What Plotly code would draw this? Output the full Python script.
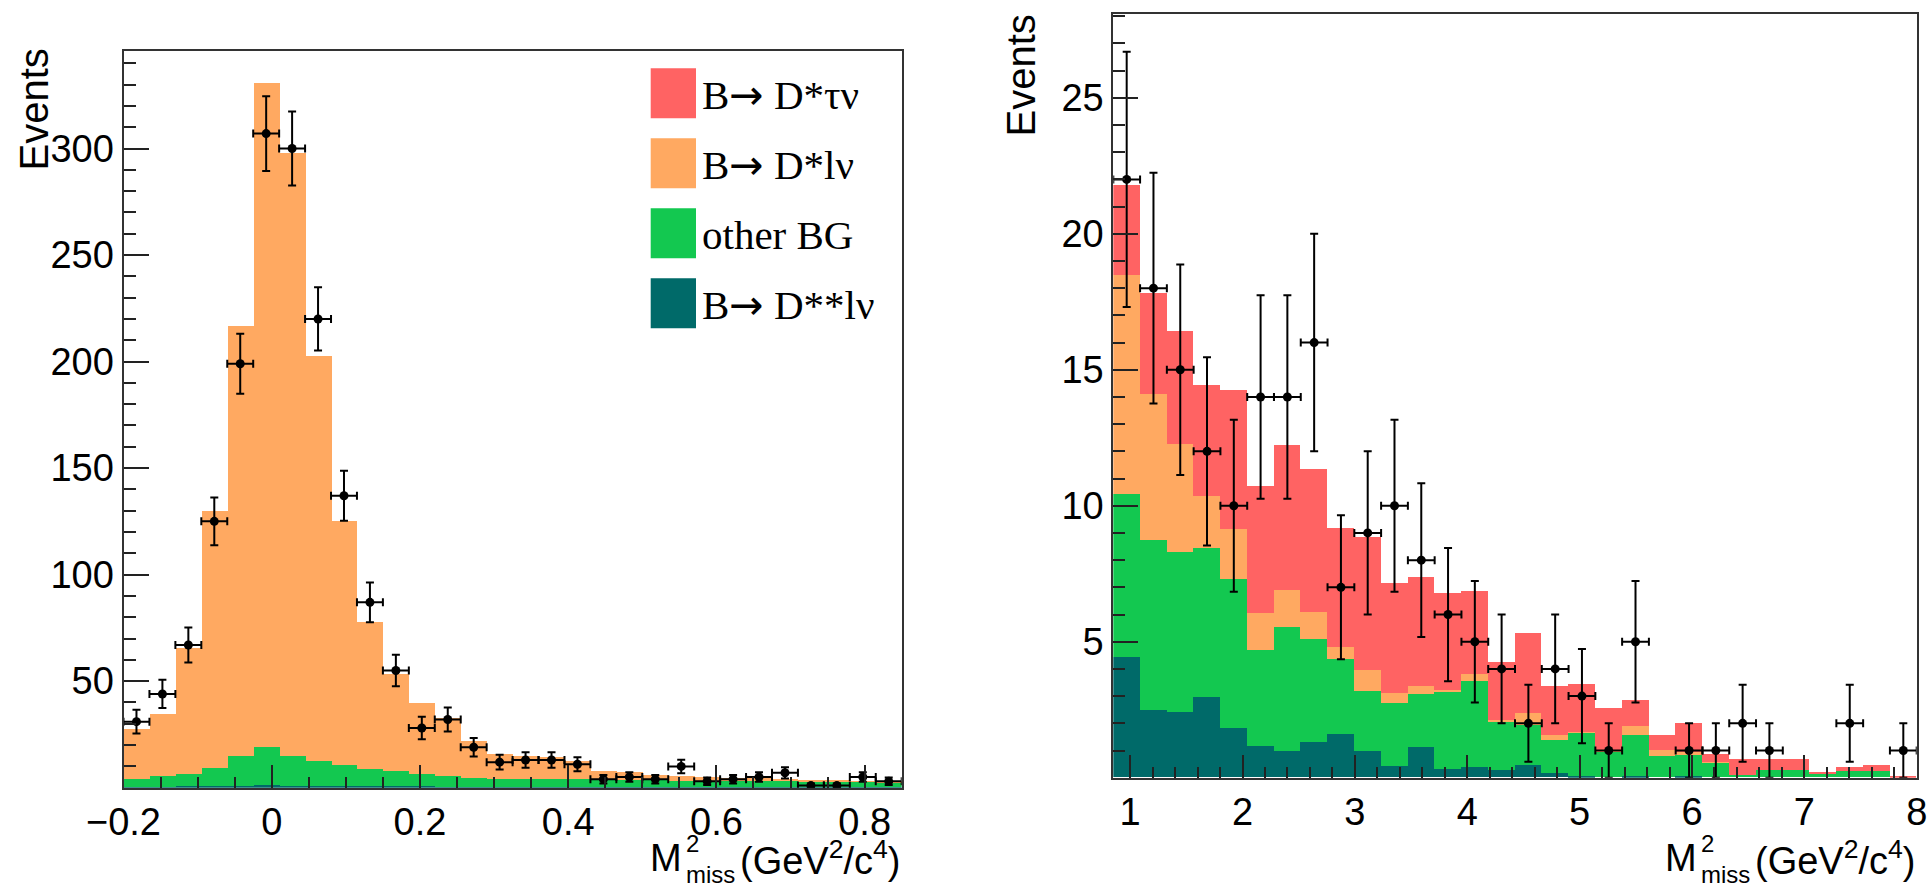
import numpy as np
import plotly.graph_objects as go

W, H = 1930, 890

# ---------------- data: left panel (M2miss -0.2 .. 0.85, 30 bins) ----------------
left_range = [-0.2, 0.85]
left_nbins = 30
left_data = [31, 44, 67, 125, 199, 307, 300, 220, 137, 87, 55, 28, 32, 19, 12,
             13, 13, 11, 4, 5, 4, 10, 3, 4, 5, 7, 1, 1, 5, 3]
left_dss = [0.8, 0.8, 0.9, 1.0, 1.2, 1.4, 1.2, 1.1, 1.0, 1.0, 0.9, 0.9, 0.8, 0.8, 0.8,
            0.8, 0.8, 0.8, 0.8, 0.8, 0.7, 0.7, 0.7, 0.7, 0.7, 0.7, 0.7, 0.7, 0.7, 0.7]
left_other = [3.6, 4.7, 5.8, 8.5, 13.7, 17.8, 14.1, 11.9, 10.1, 8.1, 7.1, 5.8, 5.0, 4.1, 3.6,
              3.5, 3.4, 3.3, 3.1, 3.0, 3.0, 2.9, 2.8, 2.7, 2.6, 2.5, 2.4, 2.3, 2.3, 2.2]
left_dslnu = [23.4, 29.4, 59.3, 120.5, 202.1, 311.8, 282.7, 190.0, 114.4, 68.7, 45.5, 33.3, 27.2,
              17.1, 11.8, 11.0, 10.6, 8.7, 4.0, 3.6, 2.6, 2.2, 1.6, 1.4, 1.5, 1.1, 0.5, 0.6, 0.3, 0.3]
left_dstau = [0, 0, 0, 0, 0, 0, 0, 0, 0, 0, 0, 0, 0, 0, 0,
              0, 0, 0, 0, 0, 0, 0, 0, 0, 0, 0, 0, 0, 0, 0]

# ---------------- data: right panel (M2miss 0.85 .. 8.0, 30 bins) ----------------
right_range = [0.85, 8.0]
right_nbins = 30
right_data = [22, 18, 15, 12, 10, 14, 14, 16, 7, 9, 10, 8, 6, 5, 4,
              2, 4, 3, 1, 5, 0, 1, 1, 2, 1, 0, 0, 2, 0, 1]
right_dss = [4.42, 2.49, 2.39, 2.94, 1.81, 1.16, 0.98, 1.29, 1.59, 0.96, 0.43, 1.10, 0.31, 0.40, 0.28,
             0.47, 0.16, 0.04, 0.0, 0.05, 0.0, 0.05, 0.0, 0.0, 0.0, 0.0, 0.0, 0.0, 0.0, 0.0]
right_other = [6.01, 6.25, 5.88, 5.49, 5.48, 3.53, 4.55, 3.81, 2.76, 2.20, 2.30, 1.96, 2.82, 3.13, 1.78,
               1.47, 1.20, 1.61, 0.96, 1.52, 0.77, 0.81, 0.53, 0.10, 0.26, 0.26, 0.13, 0.22, 0.22, 0.0]
right_dslnu = [8.05, 5.35, 4.00, 1.93, 1.84, 1.35, 1.35, 1.00, 0.43, 0.80, 0.37, 0.29, 0.09, 0.28, 0.04,
               0.43, 0.21, 0.03, 0.02, 0.33, 0.25, 0.06, 0.02, 0.0, 0.0, 0.0, 0.0, 0.0, 0.0, 0.0]
right_dstau = [3.31, 3.72, 4.13, 4.08, 5.12, 4.66, 5.35, 5.24, 4.39, 4.88, 4.04, 4.02, 3.56, 3.03, 2.13,
               2.94, 1.80, 1.75, 1.57, 0.96, 0.55, 1.08, 0.31, 0.57, 0.41, 0.41, 0.05, 0.15, 0.25, 0.02]

ARROW = "<span style='font-family:DejaVu Sans'>\u2192</span>"
legend_names = ["B" + ARROW + " D*\u03c4\u03bd", "B" + ARROW + " D*l\u03bd", "other BG",
                "B" + ARROW + " D**l\u03bd"]

left_xticks = [-0.2, 0, 0.2, 0.4, 0.6, 0.8]
left_xticktext = ["\u22120.2", "0", "0.2", "0.4", "0.6", "0.8"]
left_yticks = [50, 100, 150, 200, 250, 300]
right_xticks = [1, 2, 3, 4, 5, 6, 7, 8]
right_yticks = [5, 10, 15, 20, 25]

# ---------------- style ----------------
RED = "#ff6363"
ORANGE = "#ffa961"
GREEN = "#13c850"
TEAL = "#006a69"
SANS = "Liberation Sans, Arial, Helvetica, sans-serif"
SERIF = "Liberation Serif, Times New Roman, serif"


def px(x):
    return x / W


def py(y):
    return 1 - y / H


fig = go.Figure()


def add_panel(xa, ya, rng, nb, data, dss, other, dslnu, dstau):
    edges = np.linspace(rng[0], rng[1], nb + 1)
    centers = 0.5 * (edges[:-1] + edges[1:])
    bw = edges[1] - edges[0]
    for vals, col in [(dss, TEAL), (other, GREEN), (dslnu, ORANGE), (dstau, RED)]:
        fig.add_trace(go.Bar(x=centers, y=vals, width=bw, marker=dict(color=col, line=dict(width=0)),
                             xaxis=xa, yaxis=ya, showlegend=False, hoverinfo="skip"))
    d = np.array(data, dtype=float)
    yv = [v if v > 0 else None for v in data]
    err = np.sqrt(d)
    fig.add_trace(go.Scatter(
        x=centers, y=yv, mode="markers", xaxis=xa, yaxis=ya, showlegend=False,
        marker=dict(color="black", size=9),
        error_y=dict(type="data", array=err, color="black", thickness=2, width=4),
        error_x=dict(type="data", array=np.full(nb, bw / 2), color="black", thickness=2, width=4),
    ))


add_panel("x", "y", left_range, left_nbins, left_data, left_dss, left_other, left_dslnu, left_dstau)
add_panel("x2", "y2", right_range, right_nbins, right_data, right_dss, right_other, right_dslnu, right_dstau)

axis_common = dict(showgrid=False, zeroline=False, showline=True, linecolor="#333", linewidth=2,
                   mirror=True, ticks="inside", tickcolor="#222", tickwidth=2, automargin=False,
                   tickfont=dict(family=SANS, size=38, color="black"))

fig.update_layout(
    width=W, height=H, autosize=False,
    margin=dict(l=0, r=0, t=0, b=0, pad=0),
    paper_bgcolor="white", plot_bgcolor="white",
    barmode="stack", bargap=0,
    xaxis=dict(domain=[px(123.5), px(901.7)], range=left_range, anchor="y",
               tickmode="array", tickvals=left_xticks, ticktext=left_xticktext, ticklen=23,
               minor=dict(ticks="inside", ticklen=11, tickmode="linear", tick0=0, dtick=0.05,
                          tickcolor="#222", tickwidth=2, showgrid=False),
               **axis_common),
    yaxis=dict(domain=[py(787.7), py(50.5)], range=[0, 346], anchor="x",
               tickmode="array", tickvals=left_yticks, ticklen=25,
               minor=dict(ticks="inside", ticklen=12, tickmode="linear", tick0=0, dtick=10,
                          tickcolor="#222", tickwidth=2, showgrid=False),
               **axis_common),
    xaxis2=dict(domain=[px(1113.3), px(1916.7)], range=right_range, anchor="y2",
                tickmode="array", tickvals=right_xticks, ticklen=23,
                minor=dict(ticks="inside", ticklen=11, tickmode="linear", tick0=0, dtick=0.2,
                           tickcolor="#222", tickwidth=2, showgrid=False),
                **axis_common),
    yaxis2=dict(domain=[py(777.7), py(14.3)], range=[0, 28.07], anchor="x2",
                tickmode="array", tickvals=right_yticks, ticklen=25,
                minor=dict(ticks="inside", ticklen=12, tickmode="linear", tick0=0, dtick=1,
                           tickcolor="#222", tickwidth=2, showgrid=False),
                **axis_common),
)

ann = []
shapes = []

# legend (left panel)
leg_cols = [RED, ORANGE, GREEN, TEAL]
row_tops = [68.3, 138.3, 208.3, 278.3]
for name, col, top in zip(legend_names, leg_cols, row_tops):
    shapes.append(dict(type="rect", xref="paper", yref="paper",
                       x0=px(650.7), x1=px(696), y0=py(top + 50), y1=py(top),
                       fillcolor=col, line=dict(width=0)))
    ann.append(dict(text=name, xref="paper", yref="paper", x=px(700), y=py(top + 27),
                    xanchor="left", yanchor="middle", showarrow=False,
                    font=dict(family=SERIF, size=41, color="black")))

# y titles
for xc, ytop in [(33.5, 47), (1020.5, 12)]:
    ann.append(dict(text="Events", xref="paper", yref="paper", x=px(xc), y=py(ytop),
                    xanchor="center", yanchor="top", textangle=-90, showarrow=False,
                    font=dict(family=SANS, size=40, color="black")))


# x titles: M^2_miss (GeV^2/c^4), right-aligned at axis end
def xtitle(x_end, y_mid):
    w_paren = 162
    w_miss = 54
    ann.append(dict(text="(GeV<sup>2</sup>/c<sup>4</sup>)", xref="paper", yref="paper",
                    x=px(x_end), y=py(y_mid), xanchor="right", yanchor="middle", showarrow=False,
                    borderpad=0, font=dict(family=SANS, size=38, color="black")))
    ann.append(dict(text="2<br>miss", xref="paper", yref="paper", align="left",
                    x=px(x_end - w_paren - w_miss - 1), y=py(y_mid + 1), xanchor="left", yanchor="middle",
                    showarrow=False, borderpad=0, font=dict(family=SANS, size=24, color="black")))
    ann.append(dict(text="M", xref="paper", yref="paper",
                    x=px(x_end - w_paren - w_miss - 3), y=py(y_mid), xanchor="right", yanchor="middle",
                    showarrow=False, borderpad=0, font=dict(family=SANS, size=38, color="black")))


xtitle(901.7, 858)
xtitle(1916.7, 858)

fig.update_layout(annotations=ann, shapes=shapes)

fig.write_html("out.html")
